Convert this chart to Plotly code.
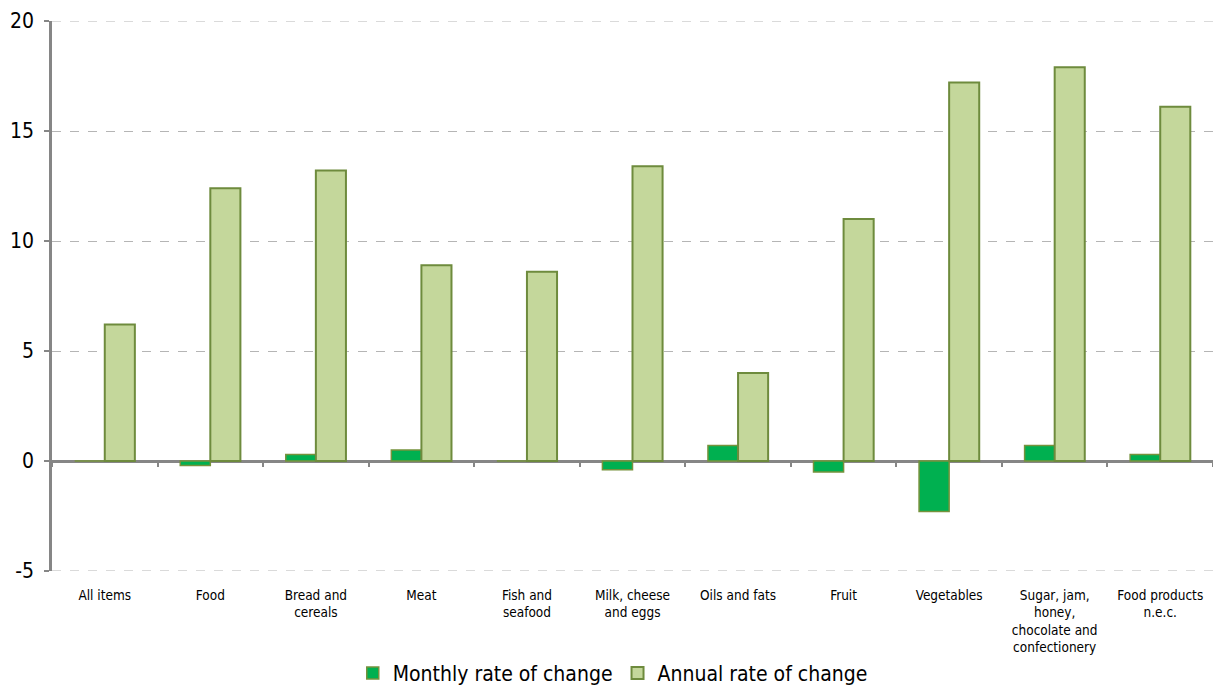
import plotly.graph_objects as go

categories = ["All items", "Food", "Bread and<br>cereals", "Meat", "Fish and<br>seafood",
              "Milk, cheese<br>and eggs", "Oils and fats", "Fruit", "Vegetables",
              "Sugar, jam,<br>honey,<br>chocolate and<br>confectionery", "Food products<br>n.e.c."]
monthly = [0.0, -0.2, 0.3, 0.5, 0.0, -0.4, 0.7, -0.5, -2.3, 0.7, 0.3]
annual = [6.2, 12.4, 13.2, 8.9, 8.6, 13.4, 4.0, 11.0, 17.2, 17.9, 16.1]
y_ticks = [-5, 0, 5, 10, 15, 20]
y_tick_text = ["-5", "0", "5", "10", "15", "20"]

FONT = "DejaVu Sans Condensed, DejaVu Sans, sans-serif"
GRID = "#B5B5B5"

fig = go.Figure()
fig.add_trace(go.Bar(x=categories, y=monthly, name="Monthly rate of change",
                     marker=dict(color="#00B050", line=dict(color="#76923C", width=1.5))))
fig.add_trace(go.Bar(x=categories, y=annual, name="Annual rate of change",
                     marker=dict(color="#C4D79B", line=dict(color="#6E8B3D", width=2))))
# helper trace so the zero-line tick axis renders
fig.add_trace(go.Scatter(x=categories, y=[None] * len(categories), xaxis="x2",
                         showlegend=False, hoverinfo="skip", mode="lines"))

# dashed grid lines at the range edges (plotly omits them)
for yv in (y_ticks[0], y_ticks[-1]):
    fig.add_shape(type="line", xref="paper", x0=0, x1=1, yref="y", y0=yv, y1=yv,
                  line=dict(color=GRID, width=1, dash="dash"), layer="below")

fig.update_layout(
    width=1213, height=678,
    margin=dict(l=44, r=8, t=13, b=115, autoexpand=False),
    paper_bgcolor="white", plot_bgcolor="white",
    barmode="group", bargap=0.43, bargroupgap=0,
    font=dict(family=FONT, color="black"),
    xaxis=dict(type="category", categoryarray=categories, range=[-0.5, 10.5],
               showline=False, showgrid=False, ticks="", zeroline=False, automargin=False,
               tickfont=dict(size=13.5, family=FONT), tickangle=0, ticklabelstandoff=14),
    xaxis2=dict(type="category", categoryarray=categories, range=[-0.5, 10.5],
                overlaying="x", anchor="free", position=0.2, side="bottom",
                showline=False, showgrid=False, showticklabels=False,
                ticks="outside", tickson="boundaries", ticklen=5, tickwidth=2,
                tickcolor="#868686"),
    yaxis=dict(range=[-5, 20], tickvals=y_ticks, ticktext=y_tick_text, showgrid=True,
               gridcolor=GRID, griddash="dash", gridwidth=1, automargin=False,
               zeroline=True, zerolinecolor="#868686", zerolinewidth=2.5,
               showline=True, linecolor="#868686", linewidth=2.5,
               ticks="outside", ticklen=5, tickwidth=2, tickcolor="#868686",
               tickfont=dict(size=21, family=FONT), ticklabelstandoff=6),
    legend=dict(orientation="h", x=0.483, xanchor="center", y=-0.186, yanchor="middle",
                font=dict(size=21, family=FONT), itemwidth=30, traceorder="normal"),
)

fig.write_html("out.html")
